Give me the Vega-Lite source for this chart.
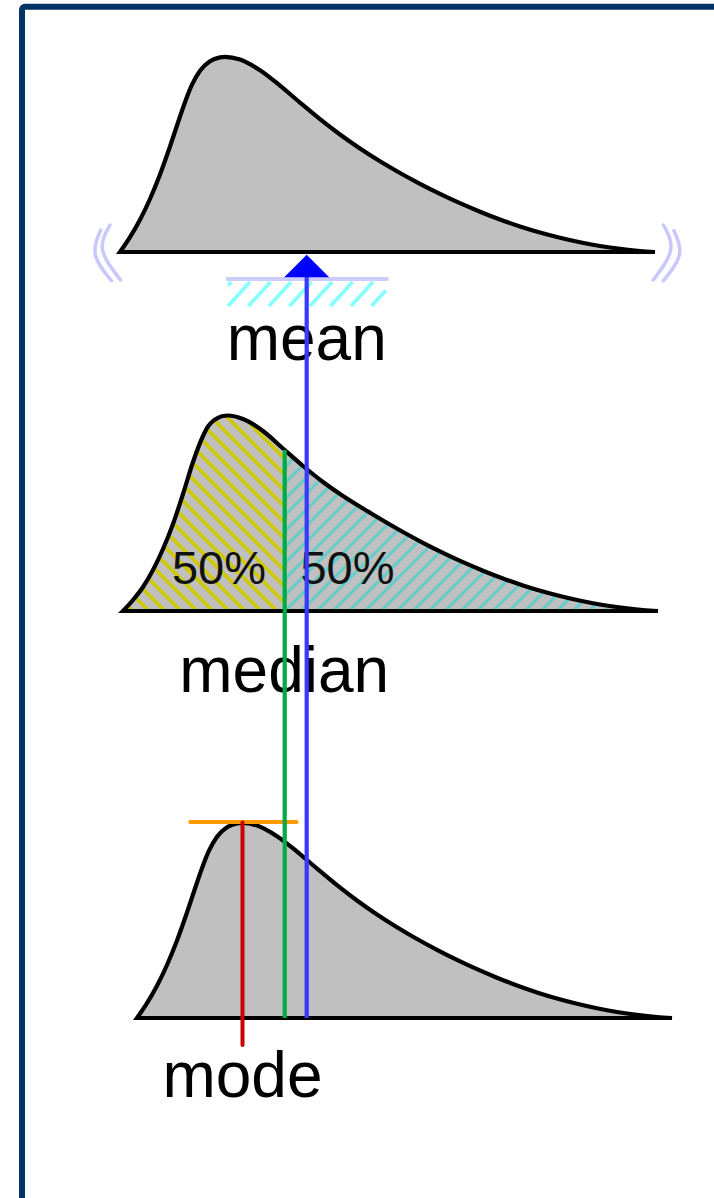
{
  "$schema": "https://vega.github.io/schema/vega-lite/v6.json",
  "width": 714,
  "height": 1198,
  "padding": 0,
  "autosize": {"type": "none"},
  "background": "white",
  "config": {"view": {"stroke": null}, "axis": {"disable": true}},
  "datasets": {
    "meanCurve": [
      {"x": 120, "y": 252, "base": 252}, {"x": 130, "y": 237.2, "base": 252}, {"x": 140, "y": 219.7, "base": 252},
      {"x": 150, "y": 199, "base": 252}, {"x": 160, "y": 174.5, "base": 252}, {"x": 170, "y": 146.5, "base": 252},
      {"x": 178, "y": 122.5, "base": 252}, {"x": 185, "y": 102.2, "base": 252}, {"x": 192, "y": 84.7, "base": 252},
      {"x": 200, "y": 70.7, "base": 252}, {"x": 210, "y": 61.2, "base": 252}, {"x": 220, "y": 57.4, "base": 252},
      {"x": 225, "y": 56.8, "base": 252}, {"x": 240, "y": 59.5, "base": 252}, {"x": 260, "y": 70.2, "base": 252},
      {"x": 280, "y": 85.6, "base": 252}, {"x": 300, "y": 102.6, "base": 252}, {"x": 320, "y": 119.2, "base": 252},
      {"x": 340, "y": 134.5, "base": 252}, {"x": 360, "y": 148.5, "base": 252}, {"x": 380, "y": 161.3, "base": 252},
      {"x": 400, "y": 173, "base": 252}, {"x": 420, "y": 183.8, "base": 252}, {"x": 440, "y": 193.9, "base": 252},
      {"x": 460, "y": 203.2, "base": 252}, {"x": 480, "y": 211.7, "base": 252}, {"x": 500, "y": 219.5, "base": 252},
      {"x": 520, "y": 226.4, "base": 252}, {"x": 540, "y": 232.5, "base": 252}, {"x": 560, "y": 237.8, "base": 252},
      {"x": 580, "y": 242.3, "base": 252}, {"x": 600, "y": 246, "base": 252}, {"x": 620, "y": 248.9, "base": 252},
      {"x": 640, "y": 251, "base": 252}, {"x": 655, "y": 252, "base": 252}
    ],
    "medianCurve": [
      {"x": 123, "y": 611, "base": 611}, {"x": 133, "y": 600, "base": 611}, {"x": 143, "y": 587, "base": 611},
      {"x": 153, "y": 570, "base": 611}, {"x": 163, "y": 549, "base": 611}, {"x": 173, "y": 524, "base": 611},
      {"x": 183, "y": 494, "base": 611}, {"x": 193, "y": 462, "base": 611}, {"x": 203, "y": 436, "base": 611},
      {"x": 208, "y": 426.5, "base": 611}, {"x": 213, "y": 421, "base": 611}, {"x": 218, "y": 417.8, "base": 611},
      {"x": 223, "y": 416, "base": 611}, {"x": 228, "y": 415.5, "base": 611}, {"x": 243, "y": 419, "base": 611},
      {"x": 263, "y": 431, "base": 611}, {"x": 283, "y": 448.5, "base": 611}, {"x": 303, "y": 466, "base": 611},
      {"x": 323, "y": 482, "base": 611}, {"x": 343, "y": 496, "base": 611}, {"x": 363, "y": 508.5, "base": 611},
      {"x": 383, "y": 520.5, "base": 611}, {"x": 403, "y": 532, "base": 611}, {"x": 423, "y": 542.8, "base": 611},
      {"x": 443, "y": 552.9, "base": 611}, {"x": 463, "y": 562.2, "base": 611}, {"x": 483, "y": 570.7, "base": 611},
      {"x": 503, "y": 578.5, "base": 611}, {"x": 523, "y": 585.4, "base": 611}, {"x": 543, "y": 591.5, "base": 611},
      {"x": 563, "y": 596.8, "base": 611}, {"x": 583, "y": 601.3, "base": 611}, {"x": 603, "y": 605, "base": 611},
      {"x": 623, "y": 607.9, "base": 611}, {"x": 643, "y": 610, "base": 611}, {"x": 658, "y": 611, "base": 611}
    ],
    "modeCurve": [
      {"x": 137, "y": 1018, "base": 1018}, {"x": 147, "y": 1003.2, "base": 1018}, {"x": 157, "y": 985.7, "base": 1018},
      {"x": 167, "y": 965, "base": 1018}, {"x": 177, "y": 940.5, "base": 1018}, {"x": 187, "y": 912.5, "base": 1018},
      {"x": 195, "y": 888.5, "base": 1018}, {"x": 202, "y": 868.2, "base": 1018}, {"x": 209, "y": 850.7, "base": 1018},
      {"x": 217, "y": 836.7, "base": 1018}, {"x": 227, "y": 827.2, "base": 1018}, {"x": 237, "y": 823.4, "base": 1018},
      {"x": 242, "y": 822.8, "base": 1018}, {"x": 257, "y": 825.5, "base": 1018}, {"x": 277, "y": 836.2, "base": 1018},
      {"x": 297, "y": 851.6, "base": 1018}, {"x": 317, "y": 868.6, "base": 1018}, {"x": 337, "y": 885.2, "base": 1018},
      {"x": 357, "y": 900.5, "base": 1018}, {"x": 377, "y": 914.5, "base": 1018}, {"x": 397, "y": 927.3, "base": 1018},
      {"x": 417, "y": 939, "base": 1018}, {"x": 437, "y": 949.8, "base": 1018}, {"x": 457, "y": 959.9, "base": 1018},
      {"x": 477, "y": 969.2, "base": 1018}, {"x": 497, "y": 977.7, "base": 1018}, {"x": 517, "y": 985.5, "base": 1018},
      {"x": 537, "y": 992.4, "base": 1018}, {"x": 557, "y": 998.5, "base": 1018}, {"x": 577, "y": 1003.8, "base": 1018},
      {"x": 597, "y": 1008.3, "base": 1018}, {"x": 617, "y": 1012, "base": 1018}, {"x": 637, "y": 1014.9, "base": 1018},
      {"x": 657, "y": 1017, "base": 1018}, {"x": 672, "y": 1018, "base": 1018}
    ],
    "brackets": [
      {"arc": "L1", "i": 0, "x": 100.7, "y": 230}, {"arc": "L1", "i": 1, "x": 95.4, "y": 255}, {"arc": "L1", "i": 2, "x": 111.4, "y": 280.7},
      {"arc": "L2", "i": 0, "x": 110, "y": 225}, {"arc": "L2", "i": 1, "x": 102.6, "y": 250}, {"arc": "L2", "i": 2, "x": 120.5, "y": 280},
      {"arc": "R1", "i": 0, "x": 663.3, "y": 225}, {"arc": "R1", "i": 1, "x": 670.7, "y": 250}, {"arc": "R1", "i": 2, "x": 653.3, "y": 280},
      {"arc": "R2", "i": 0, "x": 674, "y": 230.7}, {"arc": "R2", "i": 1, "x": 679.3, "y": 255}, {"arc": "R2", "i": 2, "x": 663.3, "y": 280.7}
    ],
    "supportHatch": [
      {"x": 228, "y": 285.5, "x2": 231.5, "y2": 282}, {"x": 228, "y": 306, "x2": 250, "y2": 282},
      {"x": 248.5, "y": 306, "x2": 270.5, "y2": 282}, {"x": 269, "y": 306, "x2": 291, "y2": 282},
      {"x": 289.5, "y": 306, "x2": 311.5, "y2": 282}, {"x": 310, "y": 306, "x2": 332, "y2": 282},
      {"x": 330.5, "y": 306, "x2": 352.5, "y2": 282}, {"x": 351, "y": 306, "x2": 373, "y2": 282},
      {"x": 371.5, "y": 306, "x2": 386, "y2": 290.2}
    ],
    "lowerHalf": [
      {"x": 285, "y": 443, "x2": 242, "y2": 400},
      {"x": 285, "y": 459, "x2": 226, "y2": 400}, {"x": 285, "y": 475, "x2": 210, "y2": 400},
      {"x": 285, "y": 491, "x2": 194, "y2": 400}, {"x": 285, "y": 507, "x2": 178, "y2": 400},
      {"x": 285, "y": 523, "x2": 162, "y2": 400}, {"x": 285, "y": 539, "x2": 146, "y2": 400},
      {"x": 285, "y": 555, "x2": 130, "y2": 400}, {"x": 285, "y": 571, "x2": 114, "y2": 400},
      {"x": 285, "y": 587, "x2": 100, "y2": 402}, {"x": 285, "y": 603, "x2": 100, "y2": 418},
      {"x": 277, "y": 611, "x2": 100, "y2": 434}, {"x": 261, "y": 611, "x2": 100, "y2": 450},
      {"x": 245, "y": 611, "x2": 100, "y2": 466}, {"x": 229, "y": 611, "x2": 100, "y2": 482},
      {"x": 213, "y": 611, "x2": 100, "y2": 498}, {"x": 197, "y": 611, "x2": 100, "y2": 514},
      {"x": 181, "y": 611, "x2": 100, "y2": 530}, {"x": 165, "y": 611, "x2": 100, "y2": 546},
      {"x": 149, "y": 611, "x2": 100, "y2": 562}, {"x": 133, "y": 611, "x2": 100, "y2": 578}
    ],
    "upperHalf": [
      {"x": 285, "y": 451, "x2": 336, "y2": 400}, {"x": 285, "y": 467, "x2": 352, "y2": 400},
      {"x": 285, "y": 483, "x2": 368, "y2": 400}, {"x": 285, "y": 499, "x2": 384, "y2": 400},
      {"x": 285, "y": 515, "x2": 400, "y2": 400}, {"x": 285, "y": 531, "x2": 416, "y2": 400},
      {"x": 285, "y": 547, "x2": 432, "y2": 400}, {"x": 285, "y": 563, "x2": 448, "y2": 400},
      {"x": 285, "y": 579, "x2": 464, "y2": 400}, {"x": 285, "y": 595, "x2": 480, "y2": 400},
      {"x": 285, "y": 611, "x2": 496, "y2": 400}, {"x": 301, "y": 611, "x2": 512, "y2": 400},
      {"x": 317, "y": 611, "x2": 528, "y2": 400}, {"x": 333, "y": 611, "x2": 544, "y2": 400},
      {"x": 349, "y": 611, "x2": 560, "y2": 400}, {"x": 365, "y": 611, "x2": 576, "y2": 400},
      {"x": 381, "y": 611, "x2": 592, "y2": 400}, {"x": 397, "y": 611, "x2": 608, "y2": 400},
      {"x": 413, "y": 611, "x2": 624, "y2": 400}, {"x": 429, "y": 611, "x2": 640, "y2": 400},
      {"x": 445, "y": 611, "x2": 656, "y2": 400}, {"x": 461, "y": 611, "x2": 672, "y2": 400},
      {"x": 477, "y": 611, "x2": 688, "y2": 400}, {"x": 493, "y": 611, "x2": 704, "y2": 400},
      {"x": 509, "y": 611, "x2": 714, "y2": 406}, {"x": 525, "y": 611, "x2": 714, "y2": 422},
      {"x": 541, "y": 611, "x2": 714, "y2": 438}, {"x": 557, "y": 611, "x2": 714, "y2": 454},
      {"x": 573, "y": 611, "x2": 714, "y2": 470}, {"x": 589, "y": 611, "x2": 714, "y2": 486},
      {"x": 605, "y": 611, "x2": 714, "y2": 502}, {"x": 621, "y": 611, "x2": 714, "y2": 518},
      {"x": 637, "y": 611, "x2": 714, "y2": 534}, {"x": 653, "y": 611, "x2": 714, "y2": 550}
    ],
    "stats": [
      {"stat": "mean", "x": 306.7, "y": 258, "y2": 1018},
      {"stat": "median", "x": 284.7, "y": 450, "y2": 1018},
      {"stat": "mode", "x": 242.5, "y": 822.5, "y2": 1045}
    ],
    "labels": [
      {"text": "mean", "x": 306.7, "y": 360},
      {"text": "median", "x": 284.2, "y": 692},
      {"text": "mode", "x": 242.5, "y": 1097}
    ],
    "halves": [
      {"text": "50%", "x": 219, "y": 583.5},
      {"text": "50%", "x": 347.5, "y": 583.5}
    ]
  },
  "layer": [
    {
      "data": {"values": [{}]},
      "mark": {"type": "rect", "fill": null, "fillOpacity": 0, "stroke": "#003366", "strokeWidth": 6, "cornerRadius": 3, "clip": true},
      "encoding": {
        "x": {"datum": 22, "type": "quantitative", "scale": {"domain": [0, 714], "nice": false, "zero": false}},
        "x2": {"datum": 800},
        "y": {"datum": 6.7, "type": "quantitative", "scale": {"domain": [0, 1198], "nice": false, "zero": false, "reverse": true}},
        "y2": {"datum": 1300}
      }
    },
    {
      "data": {"name": "meanCurve"},
      "mark": {"type": "area", "orient": "vertical", "interpolate": "monotone", "fill": "#c0c0c0", "stroke": "#000000", "strokeWidth": 4.2, "strokeJoin": "miter"},
      "encoding": {
        "x": {"field": "x", "type": "quantitative"},
        "y": {"field": "y", "type": "quantitative"},
        "y2": {"field": "base"}
      }
    },
    {
      "data": {"name": "brackets"},
      "mark": {"type": "line", "interpolate": "natural", "stroke": "#c8c8ff", "strokeWidth": 3.5, "strokeCap": "round"},
      "encoding": {
        "x": {"field": "x", "type": "quantitative"},
        "y": {"field": "y", "type": "quantitative"},
        "detail": {"field": "arc"},
        "order": {"field": "i", "type": "quantitative"}
      }
    },
    {
      "data": {"name": "supportHatch"},
      "mark": {"type": "rule", "stroke": "#88ffff", "strokeWidth": 3.8},
      "encoding": {
        "x": {"field": "x", "type": "quantitative"},
        "y": {"field": "y", "type": "quantitative"},
        "x2": {"field": "x2"},
        "y2": {"field": "y2"}
      }
    },
    {
      "data": {"values": [{}]},
      "mark": {"type": "rule", "stroke": "#ccccff", "strokeWidth": 4},
      "encoding": {
        "x": {"datum": 226, "type": "quantitative"},
        "x2": {"datum": 388.5},
        "y": {"datum": 279, "type": "quantitative"}
      }
    },
    {
      "data": {"name": "medianCurve"},
      "mark": {"type": "area", "orient": "vertical", "interpolate": "monotone", "fill": "#c0c0c0"},
      "encoding": {
        "x": {"field": "x", "type": "quantitative"},
        "y": {"field": "y", "type": "quantitative"},
        "y2": {"field": "base"}
      }
    },
    {
      "data": {"name": "lowerHalf"},
      "mark": {"type": "rule", "stroke": "#d0c800", "strokeWidth": 3.5},
      "encoding": {
        "x": {"field": "x", "type": "quantitative"},
        "y": {"field": "y", "type": "quantitative"},
        "x2": {"field": "x2"},
        "y2": {"field": "y2"}
      }
    },
    {
      "data": {"name": "upperHalf"},
      "mark": {"type": "rule", "stroke": "#6ccccc", "strokeWidth": 3.2},
      "encoding": {
        "x": {"field": "x", "type": "quantitative"},
        "y": {"field": "y", "type": "quantitative"},
        "x2": {"field": "x2"},
        "y2": {"field": "y2"}
      }
    },
    {
      "data": {"name": "medianCurve"},
      "mark": {"type": "area", "orient": "vertical", "interpolate": "monotone", "fill": "white"},
      "encoding": {
        "x": {"field": "x", "type": "quantitative"},
        "y": {"field": "y", "type": "quantitative"},
        "y2": {"datum": 395}
      }
    },
    {
      "data": {"values": [{}]},
      "mark": {"type": "rect", "fill": "white"},
      "encoding": {
        "x": {"datum": 60, "type": "quantitative"},
        "x2": {"datum": 123.2},
        "y": {"datum": 395, "type": "quantitative"},
        "y2": {"datum": 616}
      }
    },
    {
      "data": {"values": [{}]},
      "mark": {"type": "rect", "fill": "white"},
      "encoding": {
        "x": {"datum": 657.8, "type": "quantitative"},
        "x2": {"datum": 714},
        "y": {"datum": 395, "type": "quantitative"},
        "y2": {"datum": 616}
      }
    },
    {
      "data": {"name": "medianCurve"},
      "mark": {"type": "area", "orient": "vertical", "interpolate": "monotone", "fill": "white", "fillOpacity": 0, "stroke": "#000000", "strokeWidth": 4.2, "strokeJoin": "miter"},
      "encoding": {
        "x": {"field": "x", "type": "quantitative"},
        "y": {"field": "y", "type": "quantitative"},
        "y2": {"field": "base"}
      }
    },
    {
      "data": {"name": "modeCurve"},
      "mark": {"type": "area", "orient": "vertical", "interpolate": "monotone", "fill": "#c0c0c0", "stroke": "#000000", "strokeWidth": 4.2, "strokeJoin": "miter"},
      "encoding": {
        "x": {"field": "x", "type": "quantitative"},
        "y": {"field": "y", "type": "quantitative"},
        "y2": {"field": "base"}
      }
    },
    {
      "data": {"name": "labels"},
      "mark": {"type": "text", "font": "Liberation Sans", "fontSize": 64, "align": "center", "baseline": "alphabetic", "fill": "#000000"},
      "encoding": {
        "x": {"field": "x", "type": "quantitative"},
        "y": {"field": "y", "type": "quantitative"},
        "text": {"field": "text"}
      }
    },
    {
      "data": {"name": "halves"},
      "mark": {"type": "text", "font": "Liberation Sans", "fontSize": 47, "align": "center", "baseline": "alphabetic", "fill": "#111111"},
      "encoding": {
        "x": {"field": "x", "type": "quantitative"},
        "y": {"field": "y", "type": "quantitative"},
        "text": {"field": "text"}
      }
    },
    {
      "data": {"values": [{}]},
      "mark": {"type": "rule", "stroke": "#ff9900", "strokeWidth": 4, "strokeCap": "round"},
      "encoding": {
        "x": {"datum": 190.3, "type": "quantitative"},
        "x2": {"datum": 296.5},
        "y": {"datum": 822, "type": "quantitative"}
      }
    },
    {
      "data": {"name": "stats"},
      "transform": [{"filter": "datum.stat !== 'mode'"}],
      "mark": {"type": "rule", "strokeWidth": 4.2},
      "encoding": {
        "x": {"field": "x", "type": "quantitative"},
        "y": {"field": "y", "type": "quantitative"},
        "y2": {"field": "y2"},
        "color": {"field": "stat", "type": "nominal", "scale": {"domain": ["mode", "median", "mean"], "range": ["#cc0000", "#00aa44", "#3838ff"]}, "legend": null}
      }
    },
    {
      "data": {"name": "stats"},
      "transform": [{"filter": "datum.stat === 'mode'"}],
      "mark": {"type": "rule", "strokeWidth": 4, "strokeCap": "round"},
      "encoding": {
        "x": {"field": "x", "type": "quantitative"},
        "y": {"field": "y", "type": "quantitative"},
        "y2": {"field": "y2"},
        "color": {"field": "stat", "type": "nominal", "scale": {"domain": ["mode", "median", "mean"], "range": ["#cc0000", "#00aa44", "#3838ff"]}, "legend": null}
      }
    },
    {
      "data": {"values": [{}]},
      "mark": {"type": "point", "shape": "M-1,0.5L0,-0.5L1,0.5Z", "size": 2025, "filled": true, "fill": "#0000ff", "opacity": 1, "strokeWidth": 0},
      "encoding": {
        "x": {"datum": 306.7, "type": "quantitative"},
        "y": {"datum": 266, "type": "quantitative"}
      }
    }
  ]
}
